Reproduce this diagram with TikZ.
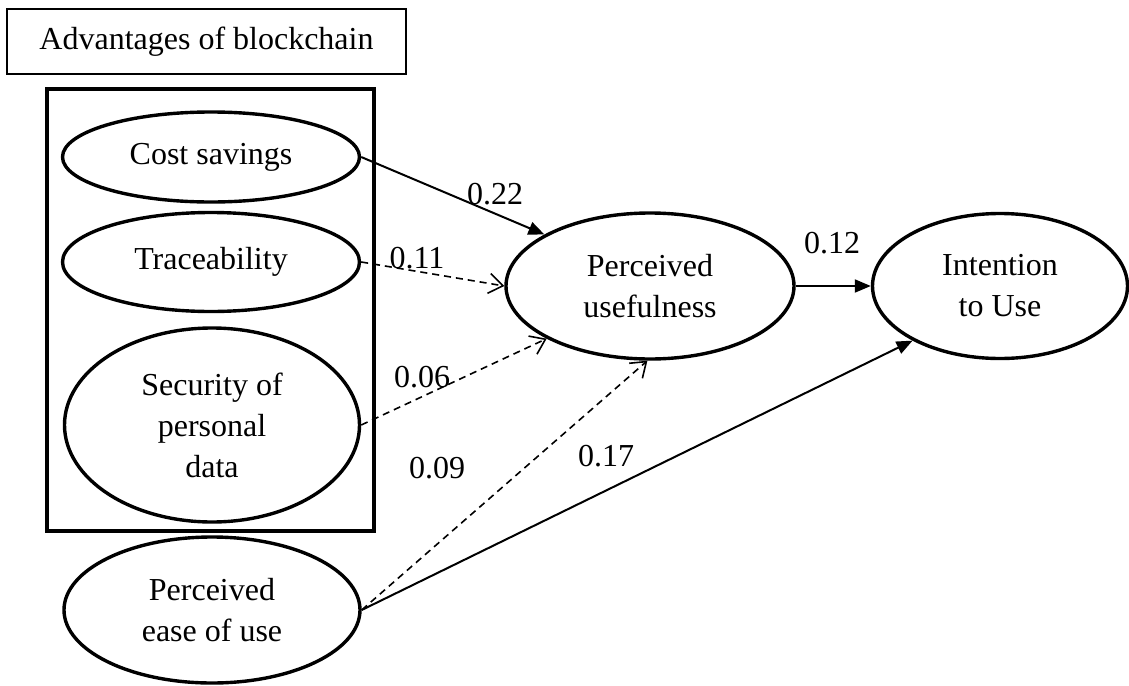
\documentclass[tikz,border=0pt]{standalone}
\usepackage{fontspec}
\setmainfont{Liberation Serif}
\usetikzlibrary{arrows.meta,shapes.geometric}

\begin{document}
\begin{tikzpicture}[x=0.5pt, y=-0.5pt,
    latent/.style={draw, ellipse, line width=1.7pt, inner sep=0pt, align=center,
                   font=\fontsize{16}{20.5}\selectfont},
    coef/.style={inner sep=0pt, font=\fontsize{16}{19}\selectfont},
    sig/.style={line width=1pt, -{Triangle[length=8pt,width=6.5pt]}},
    nonsig/.style={line width=0.8pt, dash pattern=on 3.5pt off 2.5pt,
                   -{Straight Barb[length=7pt,width=10pt]}}]
    \useasboundingbox (0,0) rectangle (1129,685);
    \node[draw, line width=0.6pt, minimum width=199.5pt, minimum height=32.5pt,
          inner sep=0pt, font=\fontsize{16}{19}\selectfont] (title) at (206.5,41.5)
         {Advantages of blockchain};
    \node[draw, line width=2pt, minimum width=163.5pt, minimum height=221pt,
          inner sep=0pt] (frame) at (210.5,310) {};
    \node[latent, minimum width=148.5pt, minimum height=45pt] (cost) at (211,157) {Cost savings};
    \node[latent, minimum width=148.5pt, minimum height=49.5pt] (trace) at (211,262) {Traceability};
    \node[latent, minimum width=147.5pt, minimum height=97pt] (sec) at (212,425)
         {Security of\\personal\\data};
    \node[latent, minimum width=148pt, minimum height=73pt] (peou) at (212,610)
         {Perceived\\ease of use};
    \node[latent, minimum width=144pt, minimum height=73pt] (pu) at (650,286)
         {Perceived\\usefulness};
    \node[latent, minimum width=127.5pt, minimum height=72.5pt] (itu) at (1000,286)
         {Intention\\to Use};
    \draw[sig] (cost.east) -- (pu.154);
    \draw[nonsig] (trace.east) -- (pu.west);
    \draw[nonsig] (sec.east) -- (pu.207);
    \draw[nonsig] (peou.east) -- (pu.268);
    \draw[sig] (peou.east) -- (itu.212);
    \draw[sig] (pu.east) -- (itu.west);
    \node[coef] (c22) at (495,194) {0.22};
    \node[coef] (c11) at (417,258) {0.11};
    \node[coef] (c06) at (422,377) {0.06};
    \node[coef] (c09) at (437,468) {0.09};
    \node[coef] (c17) at (606,456) {0.17};
    \node[coef] (c12) at (832,243) {0.12};
\end{tikzpicture}
\end{document}
